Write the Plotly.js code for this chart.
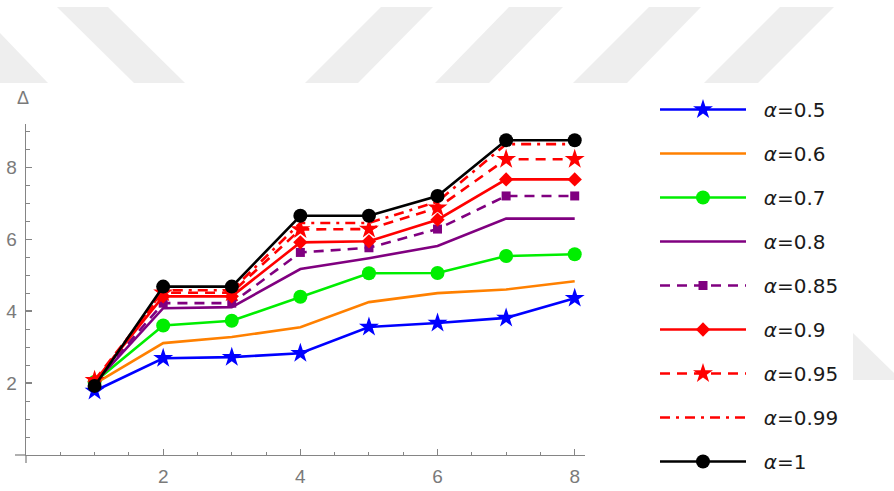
<!DOCTYPE html>
<html>
<head>
<meta charset="utf-8">
<script src="https://cdn.plot.ly/plotly-3.0.1.min.js"></script>
<style>html,body{margin:0;padding:0;background:#fff;}#chart{width:894px;height:491px;}</style>
</head>
<body>
<div id="chart"></div>
<script>
// ---- data ----
const xValues = [1, 2, 3, 4, 5, 6, 7, 8];
const seriesNames = ["α=0.5", "α=0.6", "α=0.7", "α=0.8", "α=0.85", "α=0.9", "α=0.95", "α=0.99", "α=1"];
const a05  = [1.78, 2.69, 2.72, 2.83, 3.56, 3.67, 3.81, 4.36];
const a06  = [1.98, 3.11, 3.28, 3.55, 4.25, 4.50, 4.60, 4.83];
const a07  = [2.03, 3.60, 3.73, 4.40, 5.05, 5.06, 5.53, 5.58];
const a08  = [2.00, 4.08, 4.11, 5.17, 5.47, 5.81, 6.57, 6.57];
const a085 = [2.02, 4.22, 4.22, 5.63, 5.76, 6.28, 7.20, 7.20];
const a09  = [2.05, 4.41, 4.41, 5.91, 5.94, 6.54, 7.66, 7.66];
const a095 = [2.08, 4.51, 4.51, 6.27, 6.28, 6.87, 8.22, 8.22];
const a099 = [2.00, 4.58, 4.58, 6.45, 6.45, 7.04, 8.64, 8.64];
const a1   = [1.92, 4.68, 4.68, 6.65, 6.65, 7.20, 8.75, 8.75];
const xTicks = [2, 4, 6, 8];
const yTicks = [2, 4, 6, 8];

// ---- styles ----
const seriesData = [a05, a06, a07, a08, a085, a09, a095, a099, a1];
const styles = [
  {color: "#0000ff", dash: "solid", symbol: "star", size: 15},
  {color: "#ff8000", dash: "solid", symbol: null},
  {color: "#00ee00", dash: "solid", symbol: "circle", size: 14},
  {color: "#800080", dash: "solid", symbol: null},
  {color: "#800080", dash: "10px,7px", symbol: "square", size: 9},
  {color: "#ff0000", dash: "solid", symbol: "diamond", size: 11},
  {color: "#ff0000", dash: "10px,7px", symbol: "star", size: 15},
  {color: "#ff0000", dash: "10px,6px,3px,6px", symbol: null},
  {color: "#000000", dash: "solid", symbol: "circle", size: 14}
];

const traces = seriesData.map((ys, i) => {
  const s = styles[i];
  const t = {
    x: xValues, y: ys, type: "scatter",
    name: "\u00a0\u00a0<i>α</i>" + seriesNames[i].slice(1),
    legendgroup: "g" + i,
    mode: s.symbol ? "lines+markers" : "lines",
    line: {color: s.color, width: 2.6, dash: s.dash},
    cliponaxis: false
  };
  if (s.symbol) t.marker = {symbol: s.symbol, size: s.size, color: s.color, line: {width: 0}};
  return t;
});

// ---- geometry helpers (paper coords) ----
const L = 26, R = 309, T = 124, B = 36, W = 894, H = 491;
const PW = W - L - R, PH = H - T - B;
const px = v => (v - L) / PW;
const py = v => (H - B - v) / PH;
function poly(pts) {
  return "M" + pts.map(p => px(p[0]) + "," + py(p[1])).join("L") + "Z";
}
const wm = "#eeeeee";
const bgPolys = [
  [[-77,7],[-25,7],[48,83],[-3,83]],
  [[57,7],[108,7],[185,83],[134,83]],
  [[381,7],[433,7],[358,83],[305,83]],
  [[509,7],[563,7],[489,83],[435,83]],
  [[649,7],[701,7],[627,83],[573,83]],
  [[780,7],[834,7],[758,83],[704,83]],
  [[853,333],[894,373],[894,380],[853,380]]
];
const shapes = bgPolys.map(p => ({
  type: "path", xref: "paper", yref: "paper", path: poly(p),
  fillcolor: wm, line: {width: 0}, layer: "below"
}));
const axisColor = "#858585";
shapes.push({type: "line", xref: "paper", yref: "paper", x0: -11 / PW, x1: 0, y0: 0, y1: 0, line: {color: axisColor, width: 1.3}});
shapes.push({type: "line", xref: "paper", yref: "paper", x0: 0, x1: 0, y0: -8 / PH, y1: 0, line: {color: axisColor, width: 1.3}});

const tickFont = {family: "Liberation Sans, Arial, sans-serif", size: 19, color: "#7a7a7a"};

const layout = {
  width: W, height: H,
  margin: {l: L, r: R, t: T, b: B},
  paper_bgcolor: "#ffffff", plot_bgcolor: "rgba(0,0,0,0)",
  showlegend: true,
  xaxis: {
    range: [0, 8.15], tickmode: "array", tickvals: xTicks, ticktext: xTicks.map(String),
    showline: true, linecolor: axisColor, linewidth: 1.3,
    ticks: "inside", ticklen: 6, tickwidth: 1.2, tickcolor: axisColor,
    minor: {tickmode: "linear", tick0: 0, dtick: 0.5, ticks: "inside", ticklen: 3.5, tickcolor: axisColor, tickwidth: 1},
    showgrid: false, zeroline: false, tickfont: tickFont, ticklabelstandoff: 4, fixedrange: true
  },
  yaxis: {
    range: [0, 9.2], tickmode: "array", tickvals: yTicks, ticktext: yTicks.map(String),
    showline: true, linecolor: axisColor, linewidth: 1.3,
    ticks: "inside", ticklen: 6, tickwidth: 1.2, tickcolor: axisColor,
    minor: {tickmode: "linear", tick0: 0, dtick: 0.5, ticks: "inside", ticklen: 3.5, tickcolor: axisColor, tickwidth: 1},
    showgrid: false, zeroline: false, tickfont: tickFont, ticklabelstandoff: 4, fixedrange: true
  },
  legend: {
    x: px(655), y: py(90), xanchor: "left", yanchor: "top",
    xref: "paper", yref: "paper",
    bgcolor: "rgba(0,0,0,0)", borderwidth: 0,
    font: {family: "DejaVu Sans, sans-serif", size: 20, color: "#1a1a1a"},
    itemwidth: 86, tracegroupgap: 15, traceorder: "grouped",
    maxheight: 1,
    itemclick: false, itemdoubleclick: false
  },
  annotations: [{
    xref: "paper", yref: "paper", x: px(23), y: py(98), xanchor: "center", yanchor: "middle",
    text: "Δ", showarrow: false, font: {family: "Liberation Sans, Arial, sans-serif", size: 18, color: "#7a7a7a"}
  }],
  shapes: shapes
};

Plotly.newPlot("chart", traces, layout, {displayModeBar: false, staticPlot: true});
</script>
</body>
</html>
